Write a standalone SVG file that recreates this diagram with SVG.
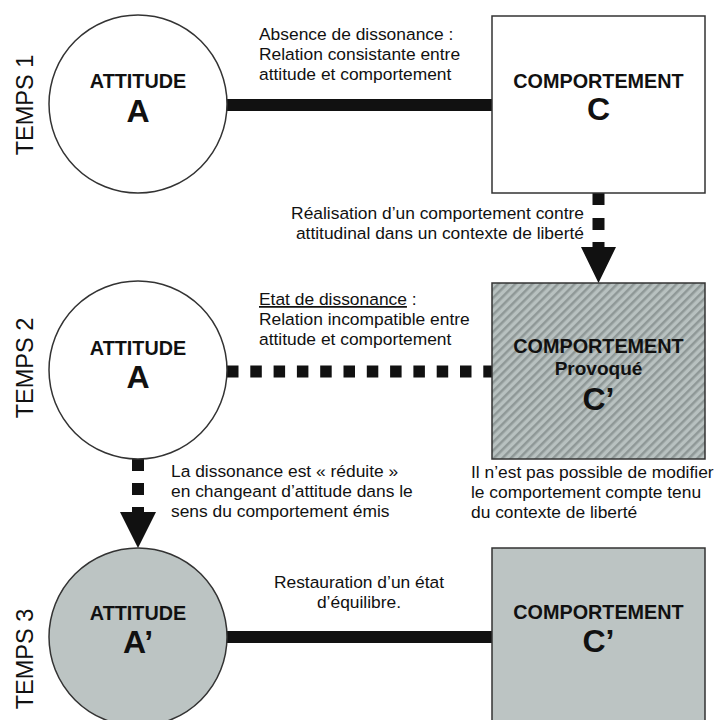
<svg xmlns="http://www.w3.org/2000/svg" width="722" height="720" viewBox="0 0 722 720">
<defs>
<pattern id="hatch" width="6" height="6" patternUnits="userSpaceOnUse" patternTransform="rotate(45)">
<rect width="6" height="6" fill="#b8c1c0"/>
<rect width="2.5" height="6" fill="#8f9897"/>
</pattern>
<style>
.t{font-family:"Liberation Sans",Arial,sans-serif;font-size:17.4px;fill:#111}
.b{font-family:"Liberation Sans",Arial,sans-serif;font-weight:bold;fill:#111;text-anchor:middle}
.lbl{font-size:19.8px}
.big{font-size:32px}
.tm{font-family:"Liberation Sans",Arial,sans-serif;font-size:23.5px;fill:#111;text-anchor:middle}
.node{stroke:#333;stroke-width:1.5}
.solid{stroke:#111;stroke-width:12;fill:none}
.dash{stroke:#111;stroke-width:12;fill:none}
.head{fill:#111}
</style>
</defs>
<rect width="722" height="720" fill="#fff"/>

<g id="temps">
<text class="tm" transform="translate(33,105) rotate(-90)">TEMPS 1</text>
<text class="tm" transform="translate(33,368) rotate(-90)">TEMPS 2</text>
<text class="tm" transform="translate(33,659) rotate(-90)">TEMPS 3</text>
</g>

<g id="connectors">
<line class="solid" x1="227" y1="105" x2="492" y2="105"/>
<line class="dash" x1="227" y1="371.5" x2="492" y2="371.5" stroke-dasharray="11.5 11.8"/>
<line class="solid" x1="227" y1="637" x2="492" y2="637"/>
<line class="dash" x1="598.5" y1="193" x2="598.5" y2="231" stroke-dasharray="12 13"/>
<path class="head" d="M592.5,242 H604.5 V247 H616 L598.5,283 L581,247 H592.5 Z"/>
<line class="dash" x1="138" y1="459" x2="138" y2="496" stroke-dasharray="12 12"/>
<path class="head" d="M132,507 H144 V512 H156 L138,548 L120,512 H132 Z"/>
</g>

<g id="A1">
<circle class="node" cx="138" cy="104" r="89" fill="#fff"/>
<text class="b lbl" x="138" y="88">ATTITUDE</text>
<text class="b big" x="138" y="122">A</text>
</g>

<g id="C1">
<rect class="node" x="492" y="16" width="213" height="177" fill="#fff"/>
<text class="b lbl" x="598.5" y="88">COMPORTEMENT</text>
<text class="b big" x="598.5" y="120">C</text>
</g>

<g id="A2">
<circle class="node" cx="138" cy="370" r="89" fill="#fff"/>
<text class="b lbl" x="138" y="355">ATTITUDE</text>
<text class="b big" x="138" y="388">A</text>
</g>

<g id="C2">
<rect class="node" x="492" y="283" width="213" height="176" fill="url(#hatch)"/>
<text class="b lbl" x="598.5" y="353">COMPORTEMENT</text>
<text class="b" x="598.5" y="375" font-size="19">Provoqué</text>
<text class="b big" x="598.5" y="410">C’</text>
</g>

<g id="A3">
<circle class="node" cx="138" cy="637" r="89" fill="#bcc4c3"/>
<text class="b lbl" x="138" y="620">ATTITUDE</text>
<text class="b big" x="138" y="653">A’</text>
</g>

<g id="C3">
<rect class="node" x="492" y="548" width="213" height="190" fill="#bcc4c3"/>
<text class="b lbl" x="598.5" y="619">COMPORTEMENT</text>
<text class="b big" x="598.5" y="652">C’</text>
</g>

<g id="labels">
<text class="t" x="259" y="40">Absence de dissonance :</text>
<text class="t" x="259" y="60">Relation consistante entre</text>
<text class="t" x="259" y="80">attitude et comportement</text>

<text class="t" x="584" y="219" text-anchor="end">Réalisation d’un comportement contre</text>
<text class="t" x="584" y="239" text-anchor="end">attitudinal dans un contexte de liberté</text>

<text class="t" x="259" y="305"><tspan text-decoration="underline">Etat de dissonance</tspan> :</text>
<text class="t" x="259" y="325">Relation incompatible entre</text>
<text class="t" x="259" y="345">attitude et comportement</text>

<text class="t" x="171" y="477">La dissonance est « réduite »</text>
<text class="t" x="171" y="497">en changeant d’attitude dans le</text>
<text class="t" x="171" y="517">sens du comportement émis</text>

<text class="t" x="471" y="478">Il n’est pas possible de modifier</text>
<text class="t" x="471" y="498">le comportement compte tenu</text>
<text class="t" x="471" y="518">du contexte de liberté</text>

<text class="t" x="359" y="588" text-anchor="middle">Restauration d’un état</text>
<text class="t" x="359" y="608" text-anchor="middle">d’équilibre.</text>
</g>
</svg>
